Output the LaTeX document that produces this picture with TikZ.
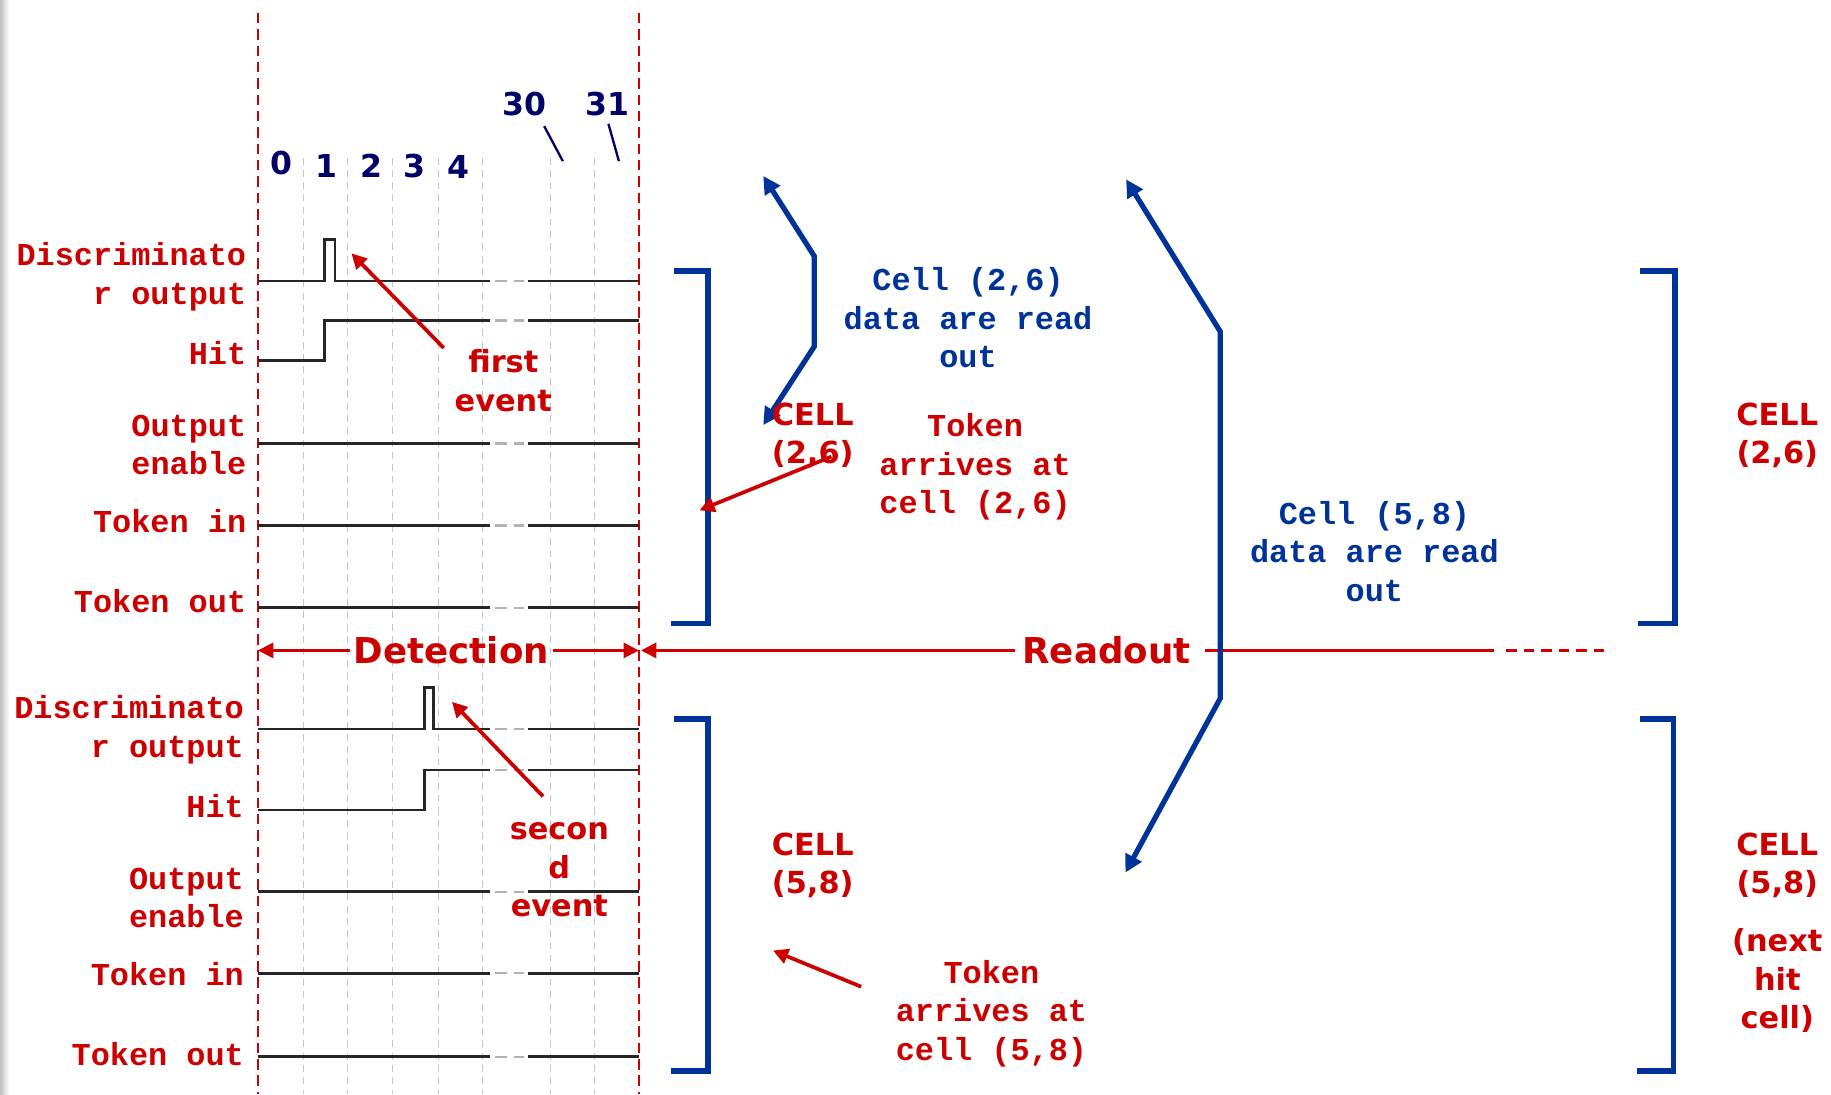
\documentclass[tikz,border=0pt]{standalone}
\usepackage{fontspec}
\setmainfont{DejaVu Sans}
\newfontfamily\monof{Liberation Mono}
\usetikzlibrary{arrows.meta}
\definecolor{cred}{RGB}{204,0,0}
\definecolor{cblue}{RGB}{0,51,153}
\definecolor{cnavy}{RGB}{0,0,102}
\newcommand\wavetail[1]{\draw[gapd] (420,#1) -- (452,#1); \draw[sig] (452,#1) -- (547,#1);}
\begin{document}
\begin{tikzpicture}[x=1pt,y=-1pt,
 lbl/.style={font=\monof\bfseries\fontsize{27.3}{33}\selectfont, text=cred, inner sep=0pt, align=right, anchor=east},
 mtxt/.style={font=\monof\bfseries\fontsize{27.3}{33}\selectfont, inner sep=0pt, align=center},
 btxt/.style={font=\bfseries\fontsize{26}{33}\selectfont, text=cred, inner sep=0pt, align=center},
 dig/.style={font=\bfseries\fontsize{27}{30}\selectfont, text=cnavy, inner sep=0pt},
 big/.style={font=\bfseries\fontsize{30.5}{34}\selectfont, text=cred, inner ysep=0pt},
 sig/.style={draw=black!85, line width=2.3pt, line join=miter},
 gapd/.style={draw=gray!60, line width=2pt, dash pattern=on 0pt off 3.5pt on 10.5pt off 6pt on 8.7pt off 20pt},
 gridl/.style={draw=gray!45, line width=1.1pt, dash pattern=on 6pt off 4.5pt},
 rdash/.style={draw=cred, line width=1.8pt, dash pattern=on 9pt off 5pt},
 bline/.style={draw=cblue, line width=4.8pt, line join=miter},
 barr/.style={bline, line width=4.5pt, {Triangle[length=15pt,width=15pt]}-{Triangle[length=15pt,width=15pt]}},
 rarr/.style={draw=cred, line width=3.2pt, -{Triangle[length=13pt,width=13pt]}},
 rline/.style={draw=cred, line width=2.2pt},
 rtip/.style={rline, -{Triangle[length=13pt,width=13pt]}},
 nline/.style={draw=cnavy, line width=2pt}]
\useasboundingbox (0,0) rectangle (1568,937);
\shade[left color=black!25, right color=white] (0,0) rectangle (8,937);
% grid
\foreach \x in {259.6,297.4,336.2,375.6,413,471.5,509.3} \draw[gridl] (\x,135) -- (\x,937);
\draw[rdash] (221,11) -- (221,937);
\draw[rdash] (547,11) -- (547,937);
% digits
\node[dig] (d0) at (241,140) {0};
\node[dig] (d1) at (280,142) {1};
\node[dig] (d2) at (318,142) {2};
\node[dig] (d3) at (355,142) {3};
\node[dig] (d4) at (393,143) {4};
\node[dig] (d30) at (449,89) {30};
\node[dig] (d31) at (520,89) {31};
\coordinate (c30a) at (466,108); \coordinate (c30b) at (482,138);
\coordinate (c31a) at (521,106); \coordinate (c31b) at (530,138);
\draw[nline] (c30a) -- (c30b);
\draw[nline] (c31a) -- (c31b);
% top waveforms
\draw[sig] (221,240.6) -- (277.6,240.6) -- (277.6,205) -- (287,205) -- (287,240.6) -- (420,240.6);
\wavetail{240.6}
\draw[sig] (221,309) -- (278,309) -- (278,274.6) -- (420,274.6);
\wavetail{274.6}
\draw[sig] (221,379.7) -- (420,379.7); \wavetail{379.7}
\draw[sig] (221,449.9) -- (420,449.9); \wavetail{449.9}
\draw[sig] (221,520.4) -- (420,520.4); \wavetail{520.4}
% bottom waveforms
\draw[sig] (221,624.3) -- (363.3,624.3) -- (363.3,589) -- (371.3,589) -- (371.3,624.3) -- (420,624.3);
\wavetail{624.3}
\draw[sig] (221,693.7) -- (363.3,693.7) -- (363.3,659.4) -- (420,659.4);
\wavetail{659.4}
\draw[sig] (221,763.6) -- (420,763.6); \wavetail{763.6}
\draw[sig] (221,833.5) -- (420,833.5); \wavetail{833.5}
\draw[sig] (221,904.9) -- (420,904.9); \wavetail{904.9}
% signal labels
\node[lbl] (l1) at (211,237) {Discriminato\\r output};
\node[lbl] (l2) at (211,302) {Hit};
\node[lbl] (l3) at (211,381) {Output\\enable};
\node[lbl] (l4) at (211,446) {Token in};
\node[lbl] (l5) at (211,515) {Token out};
\node[lbl] (m1) at (209,625) {Discriminato\\r output};
\node[lbl] (m2) at (209,690) {Hit};
\node[lbl] (m3) at (209,769) {Output\\enable};
\node[lbl] (m4) at (209,834) {Token in};
\node[lbl] (m5) at (209,903) {Token out};
% event annotations
\node[btxt] (fe) at (431,326) {first\\event};
\coordinate (fea) at (380,298); \coordinate (feb) at (301,217);
\draw[rarr] (fea) -- (feb);
\node[btxt] (se) at (479,745) {secon\\d\\event};
\coordinate (sea) at (465,682); \coordinate (seb) at (387,601);
\draw[rarr] (sea) -- (seb);
% detection / readout
\node[big, inner xsep=3pt] (det) at (386.5,557) {Detection};
\coordinate (dl) at (221,557); \coordinate (dr) at (547,557);
\draw[rtip] (det.west) -- (dl);
\draw[rtip] (det.east) -- (dr);
\node[big, inner xsep=6pt] (ro) at (947.5,557) {Readout};
\coordinate (rl) at (549,557); \coordinate (rr) at (1279,557);
\coordinate (rd1) at (1290,557); \coordinate (rd2) at (1380,557);
\draw[rtip] (ro.west) -- (rl);
\draw[rline] ([xshift=6pt]ro.east) -- (rr);
\draw[rline, dash pattern=on 9pt off 6pt] (rd1) -- (rd2);
% brackets
\draw[bline] (577.6,232) -- (606.4,232) -- (606.4,533.8) -- (574.3,533.8);
\draw[bline] (577.5,615.8) -- (606.4,615.8) -- (606.4,917.2) -- (574.3,917.2);
\draw[bline] (1404.5,232) -- (1434.3,232) -- (1434.3,533.8) -- (1402.6,533.8);
\draw[bline] (1404,615.7) -- (1433,615.7) -- (1433,917.2) -- (1402,917.2);
% blue readout arrows
\coordinate (b1a) at (653.6,150.7); \coordinate (b1b) at (697.2,219.2);
\coordinate (b1c) at (697.2,296.9); \coordinate (b1d) at (653.6,364);
\draw[barr] (b1a) -- (b1b) -- (b1c) -- (b1d);
\coordinate (b2a) at (964.3,153.6); \coordinate (b2b) at (1045,284);
\coordinate (b2c) at (1045,598); \coordinate (b2d) at (963.7,747.3);
\draw[barr] (b2a) -- (b2b) -- (b2c) -- (b2d);
% texts
\node[mtxt, text=cblue] (t26) at (829,272) {Cell (2,6)\\data are read\\out};
\node[mtxt, text=cblue] (t58) at (1177,472) {Cell (5,8)\\data are read\\out};
\node[mtxt, text=cred] (k26) at (835,400) {Token\\arrives at\\cell (2,6)};
\node[mtxt, text=cred] (k58) at (849,868) {Token\\arrives at\\cell (5,8)};
\node[btxt] (cl26) at (696,373) {CELL\\(2,6)};
\node[btxt] (cl58) at (696,741) {CELL\\(5,8)};
\node[btxt] (cr26) at (1522,373) {CELL\\(2,6)};
\node[btxt] (cr58) at (1522,741) {CELL\\(5,8)};
\node[btxt] (nx) at (1522,840) {(next\\hit\\cell)};
% token arrows
\coordinate (ta1) at (712,391); \coordinate (tb1) at (599,437);
\draw[rarr] (ta1) -- (tb1);
\coordinate (ta2) at (737.5,845); \coordinate (tb2) at (662,814);
\draw[rarr] (ta2) -- (tb2);
\end{tikzpicture}
\end{document}
